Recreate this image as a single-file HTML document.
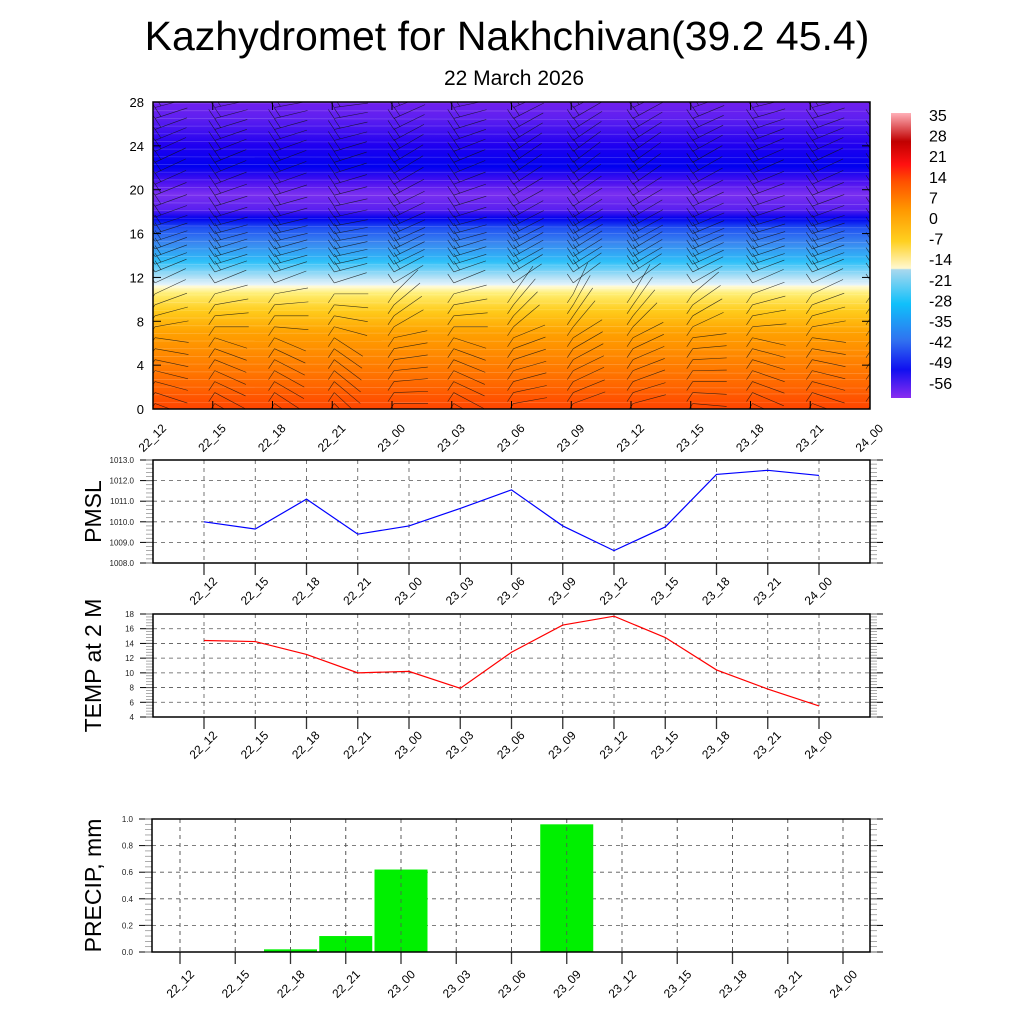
<!DOCTYPE html>
<html><head><meta charset="utf-8"><style>
body{margin:0;background:#fff;}
svg text{font-family:"Liberation Sans",sans-serif;}
</style></head><body>
<svg id="s" width="1024" height="1024" xmlns="http://www.w3.org/2000/svg">
<defs>
<clipPath id="clipTop"><rect x="153" y="102" width="717" height="307"/></clipPath>
<linearGradient id="tg" x1="0" y1="1" x2="0" y2="0">
<stop offset="0" stop-color="#ff4400"/>
<stop offset="0.07" stop-color="#ff6400"/>
<stop offset="0.15" stop-color="#ff8000"/>
<stop offset="0.25" stop-color="#ffa200"/>
<stop offset="0.32" stop-color="#ffcc1c"/>
<stop offset="0.375" stop-color="#ffee70"/>
<stop offset="0.40" stop-color="#fffbd8"/>
<stop offset="0.405" stop-color="#e4f3fb"/>
<stop offset="0.43" stop-color="#b0e0f6"/>
<stop offset="0.48" stop-color="#2ec0f8"/>
<stop offset="0.54" stop-color="#3a88f0"/>
<stop offset="0.59" stop-color="#2050f2"/>
<stop offset="0.62" stop-color="#0000ee"/>
<stop offset="0.65" stop-color="#5a20f0"/>
<stop offset="0.70" stop-color="#7a30f0"/>
<stop offset="0.74" stop-color="#4a10f0"/>
<stop offset="0.79" stop-color="#0000f0"/>
<stop offset="0.86" stop-color="#2000f0"/>
<stop offset="0.95" stop-color="#6020f0"/>
<stop offset="1" stop-color="#7020ee"/>
</linearGradient>
<linearGradient id="cb" x1="0" y1="1" x2="0" y2="0">
<stop offset="0" stop-color="#8a2cf0"/>
<stop offset="0.1" stop-color="#1010f0"/>
<stop offset="0.2" stop-color="#3070f0"/>
<stop offset="0.33" stop-color="#10c0fa"/>
<stop offset="0.45" stop-color="#a8d8ee"/>
<stop offset="0.455" stop-color="#fff8d0"/>
<stop offset="0.55" stop-color="#ffd020"/>
<stop offset="0.66" stop-color="#ff9800"/>
<stop offset="0.76" stop-color="#ff5000"/>
<stop offset="0.82" stop-color="#ff1010"/>
<stop offset="0.9" stop-color="#c00000"/>
<stop offset="1" stop-color="#ffb0b8"/>
</linearGradient>
</defs>
<text x="507" y="50" font-size="41" text-anchor="middle">Kazhydromet for Nakhchivan(39.2 45.4)</text>
<text x="514" y="85" font-size="21" text-anchor="middle">22 March 2026</text>
<g id="topG"></g>
<g id="cbar"></g>
<g id="pmsl"></g>
<g id="temp"></g>
<g id="prec"></g>
</svg>
<script>
const times=["22_12","22_15","22_18","22_21","23_00","23_03","23_06","23_09","23_12","23_15","23_18","23_21","24_00"];
const pmslValues=[1010.0,1009.65,1011.1,1009.4,1009.8,1010.65,1011.55,1009.8,1008.6,1009.75,1012.3,1012.5,1012.25];
const tempValues=[14.4,14.25,12.5,10.0,10.2,7.9,12.8,16.5,17.7,14.8,10.4,7.8,5.5];
const precipValues=[0,0,0.02,0.12,0.62,0,0,0.96,0,0,0,0,0];
const heightTicks=[0,4,8,12,16,20,24,28];
const cbLabels=["35","28","21","14","7","0","-7","-14","-21","-28","-35","-42","-49","-56"];
const pmslTicks=[1008,1009,1010,1011,1012,1013];
const tempTicks=[4,6,8,10,12,14,16,18];
const precipTicks=[0,0.2,0.4,0.6,0.8,1.0];
const windLevels=[0.5,1.5,2.5,3.5,4.5,5.5,6.5,7.5,8.5,9.5,10.5,11.5,12.5,13.2,13.9,14.6,15.3,16,16.7,17.5,18.5,19.5,20.5,21.5,22.5,23.5,24.5,25.5,26.5,27.5];
const windAngles=[20,18,15,14,12,10,8,-10,-15,-20,-25,-25,-22,-20,-20,-20,-18,-18,-18,-20,-20,-22,-24,-25,-25,-24,-22,-20,-18,-15];
const columnSkew=[0,10,15,25,-20,10,-30,-40,-35,-15,5,0,0];
const NS="http://www.w3.org/2000/svg";
function mk(p,t,a,txt){const e=document.createElementNS(NS,t);for(const k in a)e.setAttribute(k,a[k]);if(txt!==undefined)e.textContent=txt;p.appendChild(e);return e;}
const topG=document.getElementById('topG');
const L=153,R=870,T=102,B=409;
const tx=i=>L+i*(R-L)/12, hy=v=>B-(v/28)*(B-T);
let r=mk(topG,'rect',{x:L,y:T,width:R-L,height:B-T,fill:'url(#tg)'});


for(let v=0.6;v<28;v+=0.7){mk(topG,'line',{x1:L,x2:R,y1:hy(v),y2:hy(v)+((v*7)%3-1),stroke:'#fff',"stroke-opacity":0.22,"stroke-width":0.7});}
const barbs=mk(topG,'g',{"clip-path":"url(#clipTop)"});


times.forEach((t,i)=>{const x=tx(i);
 windLevels.forEach((lv,j)=>{const sk=lv<11?columnSkew[i]:columnSkew[i]*0.3;
  const a=(windAngles[j]+sk)*Math.PI/180;const y=hy(lv);
  const x2=x+2+34*Math.cos(a),y2=y+34*Math.sin(a);
  const g=mk(barbs,'g',{});
  
  
  mk(g,'line',{x1:x+2,y1:y,x2:x2,y2:y2,stroke:'#111',"stroke-width":0.6,"stroke-opacity":0.8});
  const f=(lv>11?-1:1);
  mk(g,'line',{x1:x+2,y1:y,x2:x-4,y2:y+f*9,stroke:'#111',"stroke-width":0.6,"stroke-opacity":0.8});
  if(lv>12) mk(g,'line',{x1:x+8,y1:y+6*Math.sin(a),x2:x+2,y2:y+6*Math.sin(a)-9,stroke:'#111',"stroke-width":0.6,"stroke-opacity":0.8});
 });
 mk(topG,'line',{x1:x,x2:x,y1:B,y2:B-8,stroke:'#000'});
 mk(topG,'line',{x1:x,x2:x,y1:T,y2:T+8,stroke:'#000'});
 const lb=mk(topG,'text',{x:0,y:0,"font-size":12,"text-anchor":"end",transform:`translate(${x+14},${B+20}) rotate(-45)`},t);
 
 
});
heightTicks.forEach(v=>{mk(topG,'line',{x1:L,x2:L+8,y1:hy(v),y2:hy(v),stroke:'#000'});mk(topG,'line',{x1:R,x2:R-8,y1:hy(v),y2:hy(v),stroke:'#000'});
 const lb=mk(topG,'text',{x:144,y:hy(v)+5,"font-size":13,"text-anchor":"end"},String(v));
 
 });
mk(topG,'rect',{x:L,y:T,width:R-L,height:B-T,fill:'none',stroke:'#000',"stroke-width":1.5});
const cbar=document.getElementById('cbar');
mk(cbar,'rect',{x:891,y:113,width:20,height:285,fill:'url(#cb)'});
cbLabels.forEach((s,i)=>{const lb=mk(cbar,'text',{x:929,y:121+i*20.6,"font-size":16},s);
 
 });
function panel(id,top_,bot,ticks,fmt,vals,color,title,xs,left,lx0,ly0,bw){
 const g=document.getElementById(id);
 const lo=ticks[0],hi=ticks[ticks.length-1];
 const y=v=>bot-(v-lo)/(hi-lo)*(bot-top_);
 ticks.forEach(v=>{mk(g,'line',{x1:left,x2:870,y1:y(v),y2:y(v),stroke:'#555',"stroke-dasharray":"4,4","stroke-width":0.8});
  const lb=mk(g,'text',{x:left-19,y:y(v)+3,"font-size":8,"text-anchor":"end",fill:'#222'},fmt(v));
  
  
  mk(g,'line',{x1:left,x2:left-13,y1:y(v),y2:y(v),stroke:'#000'});mk(g,'line',{x1:870,x2:883,y1:y(v),y2:y(v),stroke:'#000'});});
 const n=(ticks.length-1)*5;for(let k=0;k<=n;k++){const yy=bot-k*(bot-top_)/n;mk(g,'line',{x1:left,x2:left-7,y1:yy,y2:yy,stroke:'#888',"stroke-width":0.7});mk(g,'line',{x1:870,x2:877,y1:yy,y2:yy,stroke:'#888',"stroke-width":0.7});}
 times.forEach((t,i)=>{const x=xs(i);mk(g,'line',{x1:x,x2:x,y1:top_,y2:bot,stroke:'#555',"stroke-dasharray":"4,4","stroke-width":0.8});
  mk(g,'line',{x1:x,x2:x,y1:bot,y2:bot+12,stroke:'#333',"stroke-width":1.3});
  const lb=mk(g,'text',{x:0,y:0,"font-size":12,"text-anchor":"end",transform:`translate(${x+lx0},${bot+ly0}) rotate(-45)`},t);
  
  });
 if(color){const p=mk(g,'polyline',{points:vals.map((v,i)=>xs(i)+','+y(v)).join(' '),fill:'none',stroke:color,"stroke-width":1.2});
  
  }
 else{vals.forEach((v,i)=>{if(v>0){const b=mk(g,'rect',{x:xs(i)-bw/2,y:y(v),width:bw,height:bot-y(v),fill:'#00f000'});
  
  }});
  times.forEach((t,i)=>mk(g,'line',{x1:xs(i),x2:xs(i),y1:top_,y2:bot,stroke:'#555',"stroke-dasharray":"4,4","stroke-width":0.8}));}
 mk(g,'rect',{x:left,y:top_,width:870-left,height:bot-top_,fill:'none',stroke:'#000',"stroke-width":1.5});
 const cy=(top_+bot)/2;
 const ttl=mk(g,'text',{x:0,y:0,"font-size":23,"text-anchor":"middle",transform:`translate(101,${cy}) rotate(-90)`},title);
 
 
}
const lx=i=>204+i*51.25;
panel('pmsl',460,563,pmslTicks,v=>v.toFixed(1),pmslValues,'#0000ff','PMSL',lx,153,14,19,0);
panel('temp',614,717,tempTicks,v=>String(v),tempValues,'#ff0000','TEMP at 2 M',lx,153,14,19,0);
panel('prec',819,952,precipTicks,v=>v.toFixed(1),precipValues,null,'PRECIP, mm',i=>180+i*55.25,152,15,23,53);
</script>
</body></html>
